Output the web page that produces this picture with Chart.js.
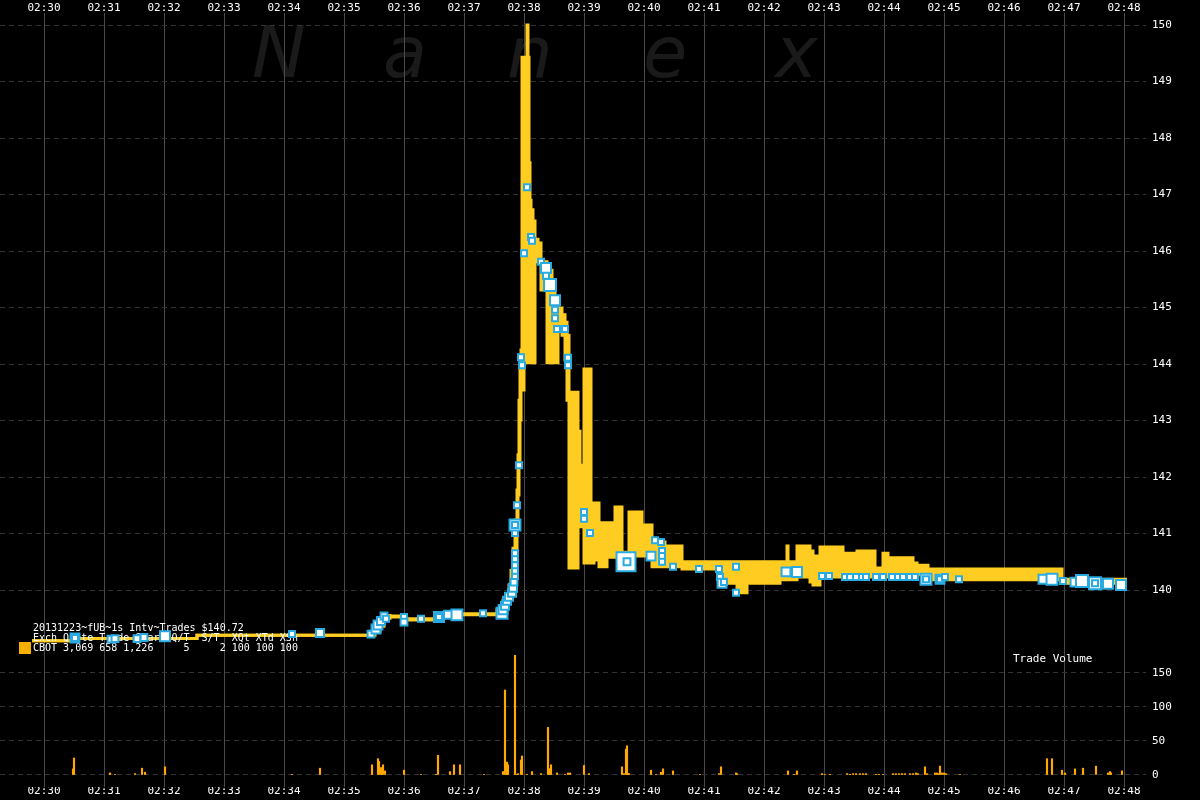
<!DOCTYPE html>
<html>
<head>
<meta charset="utf-8">
<script src="https://cdn.jsdelivr.net/npm/chart.js@4.4.1/dist/chart.umd.min.js"></script>
<style>
  html, body { margin: 0; padding: 0; background: #000; }
  #wrap { width: 1200px; height: 800px; }
</style>
</head>
<body>
<div id="wrap"><canvas id="nanex" width="1200" height="800"></canvas></div>
<script>
// 時刻ラベル（02:30 からの秒で x を表す）
const minuteLabels = ['02:30','02:31','02:32','02:33','02:34','02:35','02:36','02:37','02:38',
  '02:39','02:40','02:41','02:42','02:43','02:44','02:45','02:46','02:47','02:48'];
const priceTicks = [140,141,142,143,144,145,146,147,148,149,150];
const volumeTicks = [0,50,100,150];

// 1秒足の値幅（開始秒, 安値, 高値）— 次の点まで続く
const rangeSec  = [-12,31,153,326,331,336,340,346,361,396,453,456,459,462,465,467,469,471,473,474,475,476,477,
  478,480,482,483,484,485,486,487,489,491,494,497,503,508,511,514,518,521,523,525,534,536,540,547,550,555,560,
  563,571,578,585,598,608,621,638,679,693,703,736,743,744,753,766,769,776,799,813,831,839,844,869,873,884,1018,1083];
const rangeLow  = [139.10,139.14,139.20,139.20,139.27,139.36,139.50,139.52,139.47,139.56,139.58,139.61,139.68,139.79,139.89,140.04,140.32,140.71,141.20,141.68,142.30,143.01,143.72,
  143.54,144.02,146.27,146.27,144.02,144.02,144.02,146.27,144.02,145.81,145.81,145.31,144.02,145.13,144.02,144.60,144.51,144.07,143.36,140.39,141.12,141.12,140.48,140.48,140.53,140.41,140.41,
  140.58,140.67,140.58,140.60,140.60,140.41,140.41,140.37,140.12,139.95,140.12,140.18,140.18,140.18,140.23,140.14,140.09,140.23,140.27,140.23,140.27,140.27,140.23,140.23,140.27,140.18,140.12,140.12];
const rangeHigh = [139.10,139.14,139.20,139.27,139.36,139.45,139.55,139.54,139.49,139.58,139.65,139.72,139.82,139.93,140.09,140.35,140.74,141.24,141.77,142.39,143.36,143.89,144.25,
  149.43,149.43,149.43,150.00,149.43,147.56,146.90,146.73,146.53,146.21,146.14,145.81,145.66,145.31,145.19,144.99,144.87,144.74,144.51,143.50,142.81,142.21,143.91,141.50,141.54,141.19,141.06,
  141.19,141.47,140.67,141.38,141.15,140.85,140.78,140.50,140.50,140.50,140.50,140.50,140.78,140.50,140.78,140.69,140.60,140.76,140.65,140.69,140.39,140.65,140.57,140.48,140.44,140.37,140.19,140.19];

// 約定（秒, 価格, 枚数）
const tradeSec = [31,31,67,71,93,100,121,248,276,327,332,334,337,340,342,360,360,377,395,395,404,413,439,
  458,459,461,463,465,468,469,470,471,471,471,471,471,471,471,471,473,475,477,478,480,483,487,488,
  497,502,502,506,511,511,511,513,521,524,524,540,540,546,582,583,607,611,617,618,618,618,629,
  655,675,676,678,680,692,692,742,753,778,785,801,806,812,818,822,832,839,848,854,859,866,871,
  882,882,896,896,901,915,999,1008,1019,1031,1038,1051,1051,1064,1077];
const tradePrice = [139.15,139.15,139.13,139.14,139.14,139.16,139.18,139.22,139.24,139.22,139.31,139.38,139.45,139.54,139.49,139.52,139.43,139.49,139.52,139.52,139.56,139.56,139.59,
  139.59,139.65,139.72,139.81,139.88,139.95,140.04,140.14,140.25,140.34,140.44,140.55,140.65,141.01,141.15,141.15,141.50,142.21,144.12,143.98,145.96,147.13,146.25,146.18,
  145.81,145.70,145.56,145.40,145.13,144.96,144.81,144.62,144.62,144.11,143.98,141.38,141.26,141.01,140.50,140.50,140.60,140.88,140.85,140.69,140.60,140.50,140.41,
  140.37,140.37,140.23,140.12,140.14,139.95,140.41,140.32,140.32,140.25,140.25,140.23,140.23,140.23,140.23,140.23,140.23,140.23,140.23,140.23,140.23,140.23,140.23,
  140.19,140.19,140.19,140.19,140.23,140.19,140.19,140.19,140.16,140.14,140.16,140.12,140.12,140.11,140.09];
const tradeShares = [6,1,2,2,2,2,9,1,4,2,6,6,4,2,1,1,2,1,9,1,4,12,1,
  12,6,4,4,4,4,4,2,1,1,1,1,1,1,12,1,1,1,1,1,1,1,1,1,
  1,9,1,16,9,1,1,1,1,1,1,1,1,1,56,2,6,1,1,1,1,1,1,
  1,1,1,6,1,1,1,6,9,1,1,1,1,1,1,1,1,1,1,1,1,1,1,
  12,1,6,1,1,1,6,12,1,6,16,16,1,9,9];

// 出来高（秒, 枚数）
const volSec = [29,30,66,71,91,98,101,121,248,276,328,334,335,337,338,339,341,360,377,392,394,406,410,416,440,
  459,461,462,463,464,471,473,474,477,478,483,488,497,504,505,506,507,513,521,524,526,540,545,
  578,580,582,583,584,585,607,612,617,619,629,656,675,677,692,693,744,750,753,778,781,786,
  803,806,809,812,816,819,822,832,835,839,849,852,855,858,861,866,869,872,874,881,883,891,893,895,896,898,900,902,916,
  1003,1008,1018,1021,1031,1039,1052,1064,1066,1067,1078];
const volValue = [9,25,3,1,2,10,4,12,1,10,15,24,20,11,10,15,6,7,1,1,29,5,15,15,1,
  5,125,12,19,15,176,1,2,22,28,1,5,2,70,9,9,15,3,1,3,3,14,2,
  12,2,38,43,2,2,7,1,4,9,6,1,2,12,3,2,6,1,6,2,1,1,
  2,1,2,2,2,2,2,1,1,1,2,2,2,2,2,2,2,3,2,12,2,3,3,2,13,3,3,2,1,
  24,24,7,3,9,10,13,3,5,3,6];

const MONO = "'DejaVu Sans Mono', monospace";
const YELLOW = '#ffcc22';
const ORANGE = '#ffa800';
const CYAN = '#29abe2';

// 枚数 → 四角の半径
function sizeToRadius(shares) {
  const side = 6 + 2 * Math.sqrt(shares);
  return (side - 2) / Math.SQRT2;
}

const lowData = rangeSec.map((s, i) => ({ x: s, y: rangeLow[i] }));
const highData = rangeSec.map((s, i) => ({ x: s, y: rangeHigh[i] }));
const tradeData = tradeSec.map((s, i) => ({ x: s, y: tradePrice[i] }));
const volData = volSec.map((s, i) => ({ x: s, y: volValue[i] }));

// 背景・透かし・凡例テキスト
const nanexDecor = {
  id: 'nanexDecor',
  afterLayout(chart) {
    // 出来高軸は幅0で価格軸と重ねる。ラベルが切られないよう右端を広げる
    chart.scales.yVol.right = chart.width;
  },
  beforeDraw(chart) {
    const ctx = chart.ctx;
    ctx.save();
    ctx.fillStyle = '#000';
    ctx.fillRect(0, 0, chart.width, chart.height);
    ctx.fillStyle = '#1a1a1a';
    ctx.font = "italic 72px 'DejaVu Sans', sans-serif";
    ctx.textBaseline = 'alphabetic';
    const letters = ['N', 'a', 'n', 'e', 'x'];
    const lx = [252, 383, 507, 643, 775];
    letters.forEach((c, i) => ctx.fillText(c, lx[i], 77));
    ctx.restore();
  },
  afterDatasetDraw(chart, args) {
    if (args.index !== 1) return;
    const ctx = chart.ctx;
    ctx.save();
    ctx.fillStyle = '#fff';
    ctx.font = '10px ' + MONO;
    ctx.textBaseline = 'middle';
    ctx.fillText('20131223~fUB~1s Intv~Trades $140.72', 33, 628);
    ctx.fillText('Exch Quote Trade Share Q/T  S/T  XQt XTd XSh', 33, 638);
    ctx.fillText('CBOT 3,069 658 1,226     5     2 100 100 100', 33, 648);
    ctx.fillStyle = '#f7b000';
    ctx.fillRect(19, 642, 12, 12);
    ctx.fillStyle = '#fff';
    ctx.font = '11px ' + MONO;
    ctx.fillText('Trade Volume', 1013, 659);
    ctx.restore();
  }
};

const xTicks = {
  color: '#fff', font: { family: MONO, size: 11 }, padding: -2,
  maxRotation: 0, autoSkip: false,
  callback: v => minuteLabels[Math.round(v / 60)]
};
const setMinuteTicks = s => { s.ticks = minuteLabels.map((_, i) => ({ value: i * 60 })); };
const fitX = s => { s.height = 13; s.paddingLeft = 0; s.paddingRight = 0; };

new Chart(document.getElementById('nanex'), {
  type: 'line',
  data: {
    datasets: [
      {
        label: 'Trades', data: tradeData, showLine: false,
        pointStyle: 'rect', pointRadius: tradeShares.map(sizeToRadius),
        pointBackgroundColor: '#fff', pointBorderColor: CYAN, pointBorderWidth: 2,
        xAxisID: 'x', yAxisID: 'yPrice'
      },
      {
        type: 'bar', label: 'Trade Volume', data: volData,
        backgroundColor: ORANGE, barThickness: 1.5,
        xAxisID: 'x', yAxisID: 'yVol'
      },
      {
        label: 'High', data: highData, stepped: true,
        borderColor: YELLOW, borderWidth: 3, pointRadius: 0, fill: false,
        xAxisID: 'x', yAxisID: 'yPrice'
      },
      {
        label: 'Low', data: lowData, stepped: true,
        borderColor: YELLOW, borderWidth: 3, pointRadius: 0,
        fill: '-1', backgroundColor: YELLOW,
        xAxisID: 'x', yAxisID: 'yPrice'
      }
    ]
  },
  options: {
    responsive: false,
    animation: false,
    events: [],
    layout: { padding: 0, autoPadding: false },
    plugins: { legend: { display: false }, tooltip: { enabled: false } },
    scales: {
      x: {
        type: 'linear', position: 'bottom', min: -44, max: 1102, offset: false,
        afterBuildTicks: setMinuteTicks,
        ticks: xTicks,
        grid: { color: '#4a4a4a', lineWidth: 1, drawTicks: false, offset: false },
        border: { display: false },
        afterFit: fitX
      },
      x2: {
        type: 'linear', position: 'top', min: -44, max: 1102, offset: false,
        afterBuildTicks: setMinuteTicks,
        ticks: xTicks,
        grid: { display: false, drawTicks: false },
        border: { display: false },
        afterFit: fitX
      },
      yVol: {
        type: 'linear', position: 'right', weight: 0, min: -17.65, max: 1120.6,
        afterBuildTicks: s => { s.ticks = volumeTicks.map(v => ({ value: v })); },
        ticks: { color: '#fff', font: { family: MONO, size: 11 }, padding: 6 },
        grid: { color: '#333', lineWidth: 1, drawTicks: false },
        border: { display: false, dash: [5, 4] },
        afterFit: s => { s.width = 0; }
      },
      yPrice: {
        type: 'linear', position: 'right', weight: 1, min: 136.5133, max: 150.2124,
        afterBuildTicks: s => { s.ticks = priceTicks.map(v => ({ value: v })); },
        ticks: { color: '#fff', font: { family: MONO, size: 11 }, padding: 6 },
        grid: { color: '#333', lineWidth: 1, drawTicks: false },
        border: { display: false, dash: [5, 4] },
        afterFit: s => { s.width = 54; }
      }
    }
  },
  plugins: [nanexDecor]
});
</script>
</body>
</html>
